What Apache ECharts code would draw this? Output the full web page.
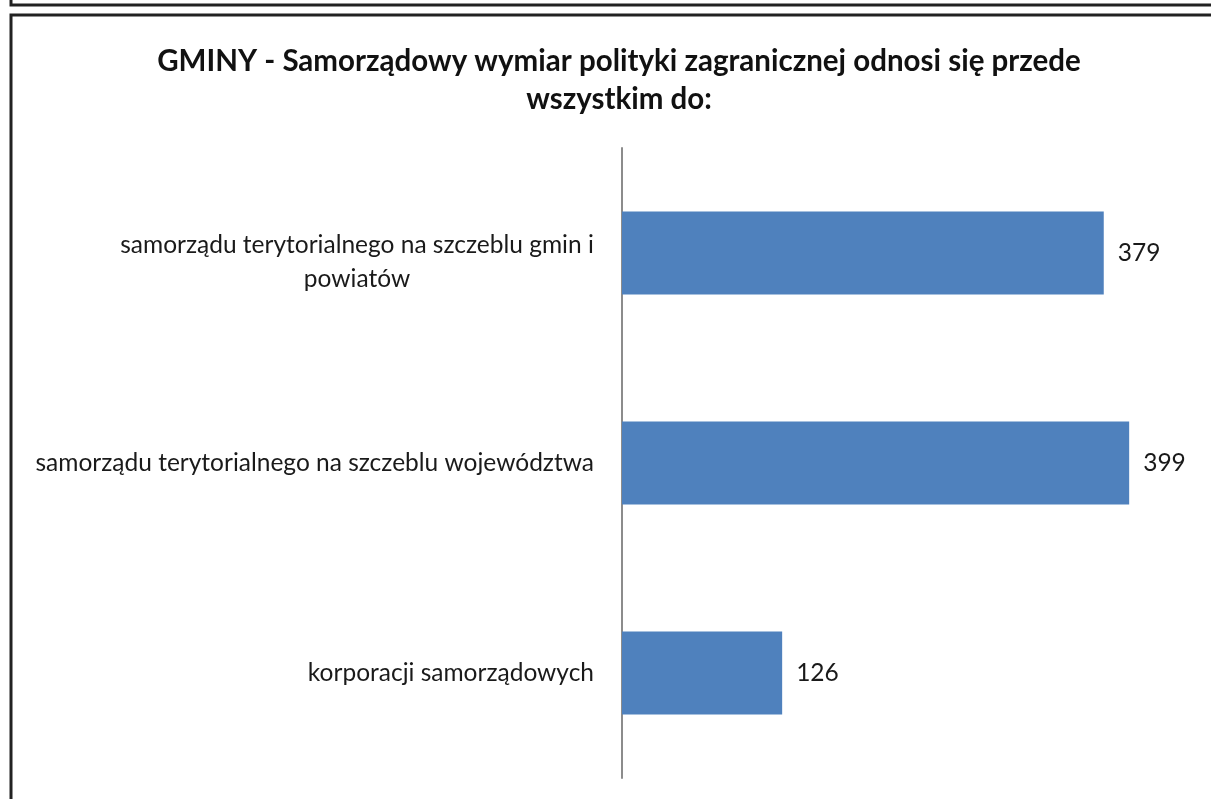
<!DOCTYPE html>
<html>
<head>
<meta charset="utf-8">
<script src="https://cdn.jsdelivr.net/npm/echarts@6/dist/echarts.min.js"></script>
<style>
  html, body { margin: 0; padding: 0; background: #fff; }
  #chart { width: 1211px; height: 799px; }
</style>
</head>
<body>
<div id="chart"></div>
<script>
const categories = [
  'samorządu terytorialnego na szczeblu gmin i\npowiatów',
  'samorządu terytorialnego na szczeblu województwa',
  'korporacji samorządowych'
]
const values = [379, 399, 126]
const titleText = 'GMINY - Samorządowy wymiar polityki zagranicznej odnosi się przede\nwszystkim do:'

const FONT = 'Lato, "Open Sans", sans-serif'
const LABEL_SIZE = 24.5

// width of a text line, used to center wrapped label lines against each other
function textWidth(str, size) {
  const ctx = document.createElement('canvas').getContext('2d')
  ctx.font = size + 'px ' + FONT
  return Math.ceil(ctx.measureText(str).width)
}

const chart = echarts.init(document.getElementById('chart'))

const option = {
  backgroundColor: '#fff',
  animation: false,
  title: {
    text: titleText,
    left: 614,
    textAlign: 'center',
    top: 37,
    textStyle: {
      fontFamily: FONT,
      fontSize: 29.5,
      fontWeight: 'bold',
      color: '#111',
      lineHeight: 38
    }
  },
  grid: {
    left: 622,
    top: 148,
    width: 572,
    height: 630
  },
  xAxis: {
    type: 'value',
    min: 0,
    max: 450,
    show: false
  },
  yAxis: {
    type: 'category',
    inverse: true,
    data: categories.map((c, i) => i === 0
      ? { value: c, textStyle: { padding: [18, 0, 0, 0] } }
      : c),
    axisLine: { show: true, lineStyle: { color: '#8c8c8c', width: 2 } },
    axisTick: { show: false },
    axisLabel: {
      margin: 28,
      color: '#1a1a1a',
      fontFamily: FONT,
      fontSize: LABEL_SIZE,
      lineHeight: 34,
      formatter: function (val) {
        const lines = val.split('\n')
        if (lines.length === 1) return val
        return lines.map(l => '{c|' + l + '}').join('\n')
      },
      rich: {
        c: {
          fontFamily: FONT,
          fontSize: LABEL_SIZE,
          color: '#1a1a1a',
          lineHeight: 34,
          align: 'center',
          width: textWidth(categories[0].split('\n')[0], LABEL_SIZE)
        }
      }
    }
  },
  series: [
    {
      type: 'bar',
      data: values,
      barWidth: 83,
      itemStyle: { color: '#4f81bd' },
      label: {
        show: true,
        position: 'right',
        distance: 14,
        color: '#1a1a1a',
        fontFamily: FONT,
        fontSize: 24.5
      }
    }
  ],
  graphic: [
    {
      type: 'rect',
      shape: { x: 11, y: -30, width: 1240, height: 35 },
      style: { fill: 'none', stroke: '#222', lineWidth: 3 }
    },
    {
      type: 'rect',
      shape: { x: 11, y: 15, width: 1240, height: 820 },
      style: { fill: 'none', stroke: '#222', lineWidth: 3 }
    }
  ]
}

chart.setOption(option)
</script>
</body>
</html>
